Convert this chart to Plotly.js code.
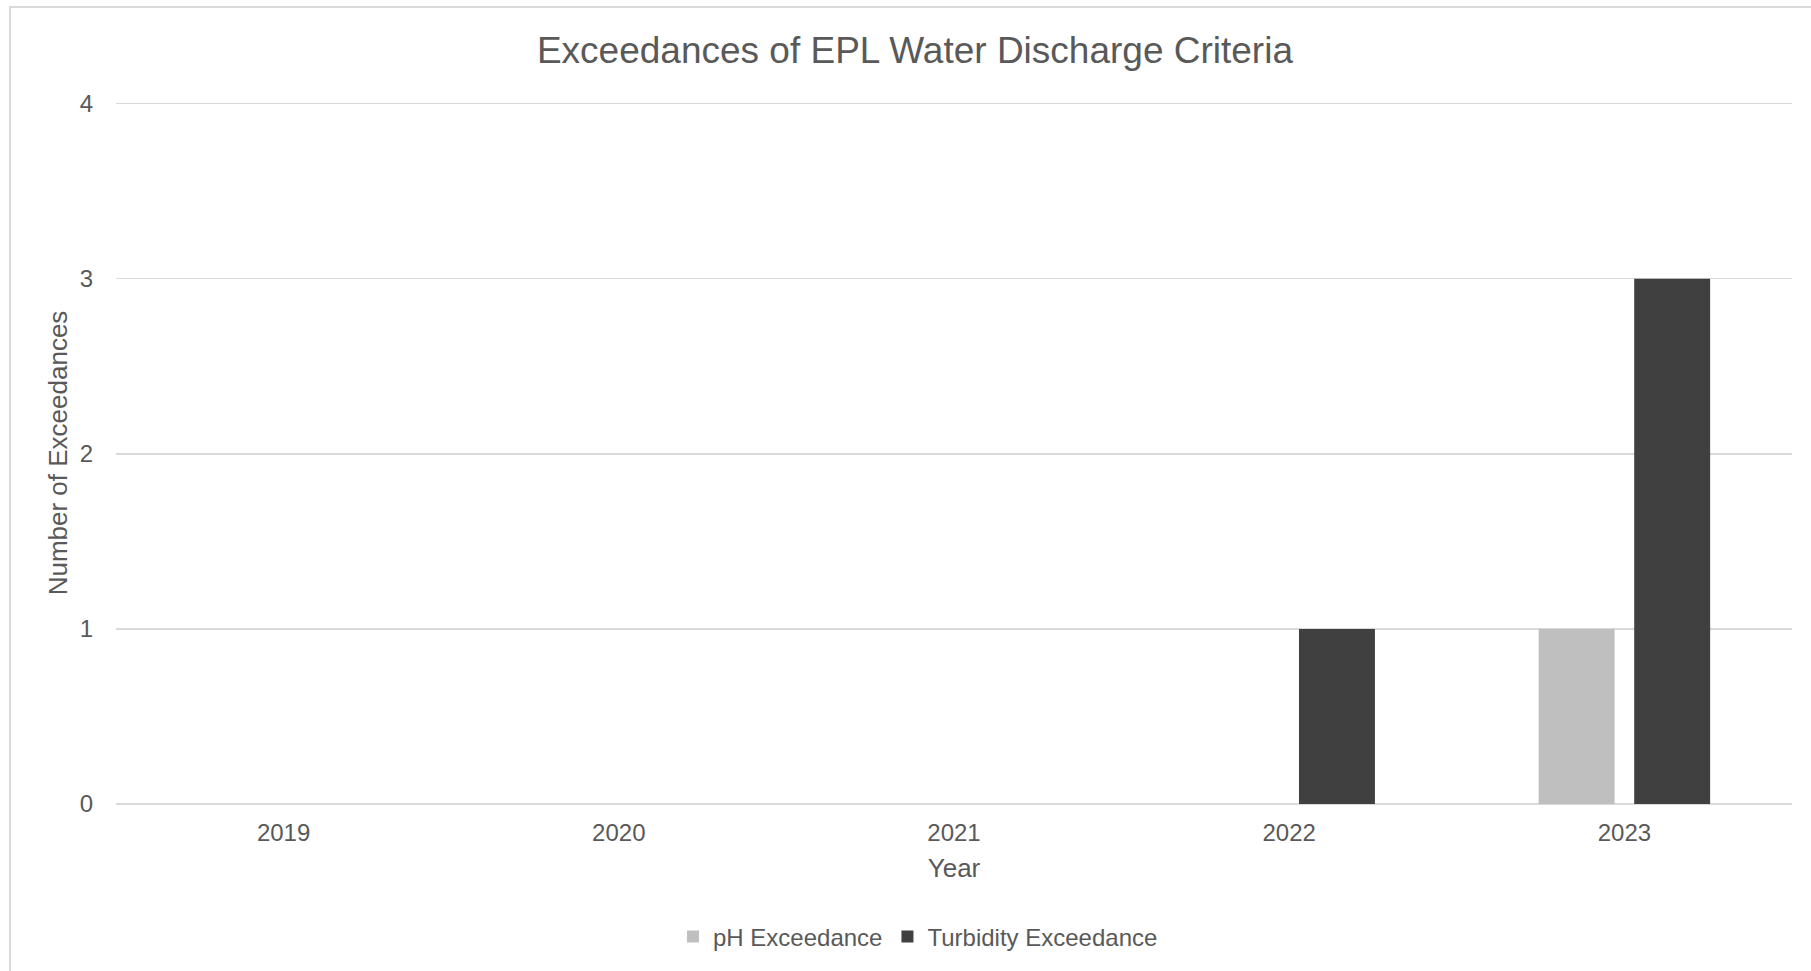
<!DOCTYPE html>
<html>
<head>
<meta charset="utf-8">
<script src="https://cdn.plot.ly/plotly-3.0.1.min.js"></script>
<style>
  html, body { margin: 0; padding: 0; background: #ffffff; overflow: hidden; }
  #frame {
    position: absolute; left: 9px; top: 6px;
    width: 1802px; height: 965px;
    border-left: 2px solid #d9d9d9; border-top: 2px solid #d9d9d9;
    box-sizing: border-box;
  }
  #chart { width: 1800px; height: 963px; }
</style>
</head>
<body>
<div id="frame"><div id="chart"></div></div>
<script>
// Annual counts of discharge criteria exceedances
const years = ['2019', '2020', '2021', '2022', '2023'];
const phExceedance = [0, 0, 0, 0, 1];
const turbidityExceedance = [0, 0, 0, 1, 3];
const yTicks = [0, 1, 2, 3, 4];

const FONT = 'Liberation Sans, Arial, sans-serif';
const TEXT = '#595959';
const GRID = '#d9d9d9';
const W = 1800, H = 963;

const traces = [
  {
    type: 'bar', name: 'pH Exceedance', x: years, y: phExceedance,
    marker: { color: '#bfbfbf', line: { width: 0 } },
    hoverinfo: 'x+y+name'
  },
  {
    type: 'bar', name: 'Turbidity Exceedance', x: years, y: turbidityExceedance,
    marker: { color: '#404040', line: { width: 0 } },
    hoverinfo: 'x+y+name'
  }
];

const layout = {
  width: W, height: H,
  margin: { l: 104.5, r: 19, t: 93.5, b: 167 },
  paper_bgcolor: '#ffffff', plot_bgcolor: '#ffffff',
  font: { family: FONT, color: TEXT, size: 24 },
  barmode: 'group', bargap: 0.43, bargroupgap: 0.205,
  title: {
    text: 'Exceedances of EPL Water Discharge Criteria',
    font: { family: FONT, size: 37, color: TEXT },
    x: 0.5022, xref: 'container', xanchor: 'center',
    y: 1 - 42 / H, yref: 'container', yanchor: 'middle'
  },
  xaxis: {
    type: 'category', categoryorder: 'array', categoryarray: years,
    showgrid: false, showline: false, zeroline: false, ticks: '',
    automargin: false,
    tickfont: { family: FONT, size: 24, color: TEXT },
    ticklabelstandoff: 12,
    title: { text: 'Year', font: { family: FONT, size: 26, color: TEXT }, standoff: 13.5 }
  },
  yaxis: {
    // small headroom above 4 keeps the top gridline inside the plot area
    range: [0, 4.009], tickvals: yTicks, ticktext: yTicks.map(String),
    automargin: false,
    showgrid: true, gridcolor: GRID, gridwidth: 1.5,
    zeroline: true, zerolinecolor: GRID, zerolinewidth: 1.5,
    showline: false, ticks: '',
    tickfont: { family: FONT, size: 24, color: TEXT },
    ticklabelstandoff: 22,
    title: { text: 'Number of Exceedances', font: { family: FONT, size: 26, color: TEXT }, standoff: 4.5 }
  },
  showlegend: true,
  legend: {
    orientation: 'h',
    xref: 'container', x: 907 / W, xanchor: 'center',
    yref: 'container', y: 1 - 929 / H, yanchor: 'middle',
    font: { family: FONT, size: 24, color: TEXT },
    itemwidth: 30, traceorder: 'normal', bgcolor: 'rgba(0,0,0,0)'
  }
};

Plotly.newPlot('chart', traces, layout, { displayModeBar: false, staticPlot: true });
</script>
</body>
</html>
